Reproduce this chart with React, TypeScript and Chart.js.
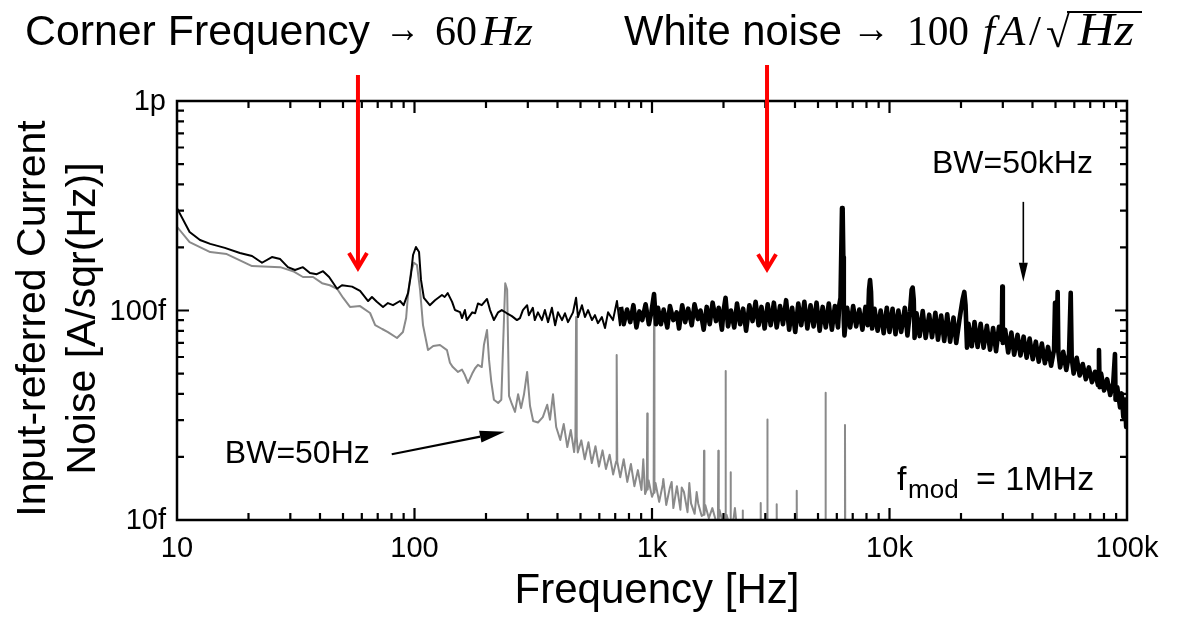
import React, { useEffect, useRef } from "react";
import { Chart, registerables } from "chart.js";

Chart.register(...registerables);

// ---------- axis ticks ----------
const xTickValues = [10, 100, 1000, 10000, 100000];
const xTickLabels = ["10", "100", "1k", "10k", "100k"];
const yTickValues = [10, 100, 1000];
const yTickLabels = ["10f", "100f", "1p"];

// ---------- BW = 50 kHz series (frequency in Hz, noise in fA/sqrt(Hz)) ----------
const bw50kFreq = [
  10, 11.3, 12.5, 13.8, 15.9, 18.4, 20.7, 22.8, 25.1, 27.2, 29.3, 31.4, 33.9, 36.3, 38.8, 41.2, 43.7, 47.2, 49.5, 54.6,
  59.0, 63.8, 66.2, 69.4, 73.7, 77.3, 81.2, 86.9, 90.0, 93.9, 96.6, 98.6, 101.4, 104.5, 106.5, 109.5, 116, 122, 130.5, 134,
  138, 144, 148, 155.5, 158.5, 163, 166, 175, 180, 185, 192, 202, 208, 216, 225, 233, 245, 257, 270, 278,
  286, 298, 303, 315, 321, 331, 344, 354, 365, 379, 391, 402, 418, 430, 443, 465, 479, 488, 507, 522,
  538, 559, 575, 592, 615, 634, 653, 685, 712, 733,
  740, 760, 785, 810, 835, 860, 885, 910, 940, 970, 995, 1020, 1040,
  1060, 1090, 1120, 1160, 1190, 1230, 1270, 1300, 1340, 1380, 1420, 1470, 1510, 1560, 1600, 1650, 1700, 1750, 1800, 1860,
  1910, 1970, 2000, 2040, 2090, 2150, 2220, 2280, 2350, 2420, 2490, 2570, 2650, 2730, 2810, 2890, 2980, 3070,
  3160, 3260, 3350, 3460, 3560, 3670, 3780, 3890, 4010, 4130, 4250, 4380, 4510, 4650, 4790, 4930, 5080, 5230, 5390, 5550,
  5720, 5890, 6070, 6150, 6220, 6270, 6310, 6350, 6390, 6420, 6460, 6540, 6630, 6830, 7030, 7240, 7460, 7690, 7920, 8100,
  8200, 8280, 8360, 8450, 8650, 8910, 9180, 9450, 9740, 10000,
  10300, 10600, 10900, 11200, 11600, 11900, 12200, 12400, 12520, 12650, 12750, 13000, 13400, 13800, 14200, 14700, 15100, 15600, 16000, 16500,
  17000, 17500, 18000, 18600, 19100, 19700, 20300, 20650, 20900, 21200, 21500, 22200, 22800, 23500, 24200, 24900, 25700, 26500, 27300, 28100,
  28900, 29700, 29850, 30000, 30700, 31600, 32600, 33500, 34600, 35600, 36700, 37800, 38900, 40100, 41300, 42500, 43800, 45100, 46500, 47900,
  49300, 49770, 50200, 50700, 51050, 51400, 52300, 53900, 55500, 57000, 57940, 58500, 59600, 61400, 63200, 65100, 67100, 69100, 71200, 73300,
  75500, 76200, 76700, 77800, 80100, 82500, 85000, 87500, 89000, 89500, 91000, 93500, 95000, 96500, 98000, 99200, 100000,
];
const bw50kNoise = [
  308, 237, 217, 208, 199, 188, 182, 169, 180, 176, 161, 156, 161, 151, 149, 154, 144.5, 127, 132, 130,
  124, 111, 116, 110, 104, 108.5, 106, 111, 106, 121, 148, 184, 201, 190, 140, 115, 106, 112, 118.6, 116,
  121, 110, 100.5, 98.3, 92, 100.5, 90, 98, 97, 108, 106, 113.5, 100.5, 90, 98, 100.5, 97, 94, 90, 92,
  100.5, 106, 95, 103, 90, 98, 90, 100.5, 88, 103, 85, 98, 90, 97, 88, 98, 115, 93, 106, 93,
  100.5, 90, 95, 87, 93, 82.5, 98, 90, 111, 85,
  104, 86, 101, 88, 106, 83, 99, 90, 107, 86, 99, 119.7, 86,
  103, 86, 101, 83, 105, 90, 98, 82, 106, 88, 102, 85, 107, 91, 100, 81, 104, 86, 109, 89,
  103, 81, 99, 115, 84, 100, 83, 108, 86, 102, 80, 106, 89, 110, 85, 104, 82, 107,
  85, 109, 83, 105, 86, 112, 81, 103, 79, 108, 85, 110, 82, 106, 84, 109, 80, 104, 83, 108,
  81, 105, 83, 107, 115, 200, 308, 300, 180, 90.1, 76, 88, 103, 83, 105, 84, 101, 81, 104, 85,
  126, 139.8, 122.6, 82, 102, 80, 100, 78, 103, 79,
  102, 77, 100, 79, 103, 76, 99, 126, 128.6, 112.5, 74, 97, 75.5, 99.5, 74, 95.5, 74.5, 97.5, 72.5, 94.5,
  71.5, 96, 71, 92.5, 70, 90.5, 112.5, 122.6, 106.3, 66.5, 86.5, 67.5, 88, 67, 86.5, 66.5, 84.5, 65, 82.5, 64,
  83.5, 72.3, 130, 70, 81, 63, 78.5, 61.5, 76.5, 61, 75, 59.5, 73.5, 58.5, 71, 57, 69.5, 56, 67, 54.5,
  65, 108.7, 64.7, 80.7, 122.6, 63.3, 53.5, 63.5, 52, 62, 121.4, 59.5, 50, 59.5, 49, 55.5, 47, 53.5, 45.5, 51,
  44, 64.7, 43, 50, 41.5, 47, 39.5, 45, 62, 37.5, 43, 34.5, 40.2, 31, 37.6, 27.8, 33,
];

// ---------- BW = 50 Hz series ----------
const bw50Freq = [
  10, 11.3, 13.8, 16.2, 20.7, 27.2, 30.8, 33.9, 37.4, 40.8, 44.0, 47.2, 50.1, 53.5, 59.0, 65.0, 68.3, 73.1, 77.3, 84.4,
  89.4, 92.2, 93.9, 96.6, 99.5, 102.4, 105.5, 108.6, 114, 119.9, 128, 137, 141, 145, 152.5, 158.5, 163, 168, 175, 180,
  185, 192, 196, 202, 206, 210.5, 216, 225, 232, 236.5, 241, 245.5, 250, 257, 265, 273, 281, 289, 298, 306.5,
  316, 331, 347, 362, 372, 383, 395, 411, 425, 440, 455, 470, 476, 479, 482, 487, 504, 521, 540, 558,
  578, 598, 619, 640, 663, 686, 706, 710, 714, 735, 760, 787, 815, 843, 872, 903, 919, 935, 951, 955,
  959, 967, 1000, 1016, 1020, 1024, 1035, 1072, 1109, 1116, 1148, 1188, 1210, 1230, 1273, 1317, 1334, 1363, 1411, 1436,
  1460, 1512, 1542, 1565, 1619, 1650, 1656, 1662, 1676, 1735, 1795, 1858, 1895, 1902, 1910, 1923, 1990, 2033, 2040, 2047,
  2060, 2132, 2141, 2150, 2207, 2234, 2284, 2330, 2400, 2408, 2416, 2860, 2869, 2878, 3050, 3059, 3068, 3340, 3350, 3360,
  4055, 4068, 4080, 5360, 5377, 5395, 6475, 6495, 6515, 10000,
];
const bw50Noise = [
  251, 212, 190, 186, 163, 161, 154, 144.5, 144.5, 135, 132, 127, 114.8, 104, 105, 97.3, 85.2, 81.6, 78.9, 73.9,
  78.9, 92.1, 118.6, 152.6, 169, 165, 126, 85.2, 64.8, 67.7, 68.4, 64.7, 56.3, 53.7, 50.9, 52.2, 49.2, 45.1, 50.0, 53,
  55, 53.7, 68.4, 80.7, 58.1, 45.8, 37.5, 36.2, 37.5, 72.3, 135, 126, 39.1, 35.8, 32.8, 39.8, 34.2, 39.7, 50.9, 35.0,
  29.7, 29.2, 31.0, 35.5, 30.1, 39.8, 27.8, 24.1, 28.7, 22.3, 26.9, 21.1, 25, 93, 25, 21, 24, 19.5, 23.5, 18.7,
  22.5, 18, 21.5, 17.5, 20.5, 16.5, 19, 61.3, 19, 16, 19.5, 15.2, 18.5, 14.5, 17.3, 13.9, 19.5, 13.3, 14, 32.2,
  14, 15.5, 12.9, 13.5, 108, 13.5, 15.0, 12.2, 14.7, 15.7, 11.8, 14.2, 15.2, 11.4, 14.5, 11.2, 14.3, 13.6, 10.9, 15.0,
  12, 10.7, 13.6, 12.0, 10.45, 10.6, 21.4, 10.6, 11.8, 10.2, 11.4, 9.9, 10, 21.4, 10, 11.2, 9.6, 10, 51.4, 10,
  10.6, 9.3, 16.9, 9.4, 10.2, 11.4, 9.0, 8, 7, 11.1, 7, 7, 12.06, 7, 7, 30.2, 7, 7, 11.9, 7,
  7, 13.8, 7, 7, 40.5, 7, 7, 28.4, 7, 7,
];

const SANS = '"Liberation Sans", Arial, Helvetica, sans-serif';
const SERIF = '"Liberation Serif", "Times New Roman", serif';

function pts(fs: number[], vs: number[]) {
  return fs.map((f, i) => ({ x: f, y: vs[i] }));
}

function text(ctx: any, s: string, x: number, y: number, font: string, align: any = "left") {
  ctx.font = font;
  ctx.textAlign = align;
  ctx.textBaseline = "alphabetic";
  ctx.fillStyle = "#000";
  ctx.fillText(s, x, y);
}

// draws text starting at x, stretched horizontally to the given width
function textFit(ctx: any, s: string, x: number, y: number, font: string, width: number) {
  ctx.save();
  ctx.font = font;
  const w = ctx.measureText(s).width || 1;
  ctx.translate(x, y);
  ctx.scale(width / w, 1);
  ctx.textAlign = "left";
  ctx.textBaseline = "alphabetic";
  ctx.fillStyle = "#000";
  ctx.fillText(s, 0, 0);
  ctx.restore();
}

function filledArrow(ctx: any, x1: number, y1: number, x2: number, y2: number, hl: number, hw: number, lw: number) {
  const a = Math.atan2(y2 - y1, x2 - x1);
  const bx = x2 - hl * Math.cos(a);
  const by = y2 - hl * Math.sin(a);
  ctx.strokeStyle = "#000";
  ctx.fillStyle = "#000";
  ctx.lineWidth = lw;
  ctx.beginPath();
  ctx.moveTo(x1, y1);
  ctx.lineTo(bx, by);
  ctx.stroke();
  ctx.beginPath();
  ctx.moveTo(x2, y2);
  ctx.lineTo(bx + hw * Math.sin(a), by - hw * Math.cos(a));
  ctx.lineTo(bx - hw * Math.sin(a), by + hw * Math.cos(a));
  ctx.closePath();
  ctx.fill();
}

function redArrow(ctx: any, x: number, yTop: number, yTip: number) {
  ctx.strokeStyle = "#ff0000";
  ctx.lineWidth = 4;
  ctx.lineCap = "butt";
  ctx.lineJoin = "miter";
  ctx.beginPath();
  ctx.moveTo(x, yTop);
  ctx.lineTo(x, yTip - 2);
  ctx.stroke();
  ctx.beginPath();
  ctx.moveTo(x - 9, yTip - 17);
  ctx.lineTo(x, yTip - 2);
  ctx.lineTo(x + 9, yTip - 17);
  ctx.stroke();
}

const framePlugin = {
  id: "framePlugin",
  afterDatasetsDraw(chart: any) {
    const ctx = chart.ctx;
    const { left, right, top, bottom } = chart.chartArea;
    const xs = chart.scales.x;
    const ys = chart.scales.y;
    ctx.save();

    // frame
    ctx.strokeStyle = "#000";
    ctx.lineWidth = 2.5;
    ctx.strokeRect(left, top, right - left, bottom - top);

    // inward ticks
    ctx.lineWidth = 2.2;
    ctx.beginPath();
    for (let d = 10; d < 100000; d *= 10) {
      for (let m = 1; m < 10; m++) {
        const v = d * m;
        const px = xs.getPixelForValue(v);
        const len = m === 1 ? 12 : 7;
        if (m === 1 && v === 10) continue;
        ctx.moveTo(px, bottom);
        ctx.lineTo(px, bottom - len);
        ctx.moveTo(px, top);
        ctx.lineTo(px, top + len);
      }
    }
    for (let d = 10; d < 1000; d *= 10) {
      for (let m = 1; m < 10; m++) {
        const v = d * m;
        const py = ys.getPixelForValue(v);
        const len = m === 1 ? 12 : 7;
        if (m === 1 && v === 10) continue;
        ctx.moveTo(left, py);
        ctx.lineTo(left + len, py);
        ctx.moveTo(right, py);
        ctx.lineTo(right - len, py);
      }
    }
    ctx.stroke();

    // tick labels
    const tickFont = `29px ${SANS}`;
    xTickValues.forEach((v, i) => {
      text(ctx, xTickLabels[i], xs.getPixelForValue(v), bottom + 37, tickFont, "center");
    });
    yTickValues.forEach((v, i) => {
      text(ctx, yTickLabels[i], left - 11, ys.getPixelForValue(v) + 9, tickFont, "right");
    });

    // axis titles
    text(ctx, "Frequency [Hz]", (left + right) / 2 + 5, bottom + 83, `42px ${SANS}`, "center");
    const cy = (top + bottom) / 2 + 8;
    ctx.save();
    ctx.translate(45, cy);
    ctx.rotate(-Math.PI / 2);
    text(ctx, "Input-referred Current", 0, 0, `41px ${SANS}`, "center");
    ctx.restore();
    ctx.save();
    ctx.translate(95, cy);
    ctx.rotate(-Math.PI / 2);
    text(ctx, "Noise [A/sqr(Hz)]", 0, 0, `41px ${SANS}`, "center");
    ctx.restore();

    // headline annotations
    const base = 45;
    textFit(ctx, "Corner Frequency", 25, base, `42px ${SANS}`, 345);
    textFit(ctx, "\u2192", 385, base - 3, `40px ${SERIF}`, 35);
    text(ctx, "60", 435, base, `42px ${SERIF}`);
    textFit(ctx, "Hz", 481, base, `italic 43px ${SERIF}`, 52);

    textFit(ctx, "White noise", 624, base, `42px ${SANS}`, 218);
    textFit(ctx, "\u2192", 852, base - 3, `40px ${SERIF}`, 38);
    textFit(ctx, "100", 907, base, `42px ${SERIF}`, 62);
    text(ctx, "f", 983, base, `italic 43px ${SERIF}`);
    text(ctx, "A", 999, base, `italic 43px ${SERIF}`);
    text(ctx, "/", 1029, base, `43px ${SERIF}`);
    text(ctx, "\u221A", 1046, base + 2, `43px ${SERIF}`);
    textFit(ctx, "Hz", 1078, base, `italic 46px ${SERIF}`, 56);
    ctx.strokeStyle = "#000";
    ctx.lineWidth = 2;
    ctx.beginPath();
    ctx.moveTo(1067, 12);
    ctx.lineTo(1142, 12);
    ctx.stroke();

    // red arrows
    redArrow(ctx, xs.getPixelForValue(57.8), top - 26, ys.getPixelForValue(156));
    redArrow(ctx, xs.getPixelForValue(3050), top - 36, ys.getPixelForValue(154));

    // black arrows
    const kx = xs.getPixelForValue(36600);
    filledArrow(ctx, kx, ys.getPixelForValue(330), kx, ys.getPixelForValue(137), 19, 4.5, 1.6);
    filledArrow(
      ctx,
      xs.getPixelForValue(80.2),
      ys.getPixelForValue(20.6),
      xs.getPixelForValue(240),
      ys.getPixelForValue(26.4),
      25,
      6,
      2.2
    );

    // labels in plot
    text(ctx, "BW=50Hz", xs.getPixelForValue(15.9), ys.getPixelForValue(18.7), `32px ${SANS}`);
    text(ctx, "BW=50kHz", xs.getPixelForValue(15100), ys.getPixelForValue(453), `32px ${SANS}`);
    const fx = xs.getPixelForValue(10760);
    const fy = ys.getPixelForValue(13.9);
    text(ctx, "f", fx, fy, `34px ${SANS}`);
    text(ctx, "mod", fx + 11, fy + 8, `26px ${SANS}`);
    text(ctx, "= 1MHz", fx + 79, fy, `34px ${SANS}`);

    ctx.restore();
  },
};

export default function App() {
  const ref = useRef<HTMLCanvasElement | null>(null);

  useEffect(() => {
    if (!ref.current) return;
    const chart = new Chart(ref.current, {
      type: "line",
      data: {
        datasets: [
          {
            label: "BW=50kHz",
            data: pts(bw50kFreq, bw50kNoise),
            borderColor: "#000000",
            borderWidth: 2,
            borderJoinStyle: "round",
            pointRadius: 0,
            tension: 0,
            fill: false,
            segment: {
              borderWidth: (c: any) => (c.p0.parsed.x >= 735 ? 4.6 : 2),
            },
          },
          {
            label: "BW=50Hz",
            data: pts(bw50Freq, bw50Noise),
            borderColor: "#8a8a8a",
            borderWidth: 2,
            borderJoinStyle: "round",
            pointRadius: 0,
            tension: 0,
            fill: false,
          },
        ],
      },
      options: {
        responsive: false,
        animation: false,
        events: [],
        layout: { padding: { left: 177, top: 101, right: 50, bottom: 99 } },
        plugins: { legend: { display: false }, tooltip: { enabled: false }, title: { display: false } },
        scales: {
          x: {
            type: "logarithmic",
            min: 10,
            max: 100000,
            grid: { display: false, drawTicks: false },
            ticks: { display: false },
            border: { display: false },
            afterFit: (s: any) => {
              s.height = 0;
            },
          },
          y: {
            type: "logarithmic",
            min: 10,
            max: 1000,
            grid: { display: false, drawTicks: false },
            ticks: { display: false },
            border: { display: false },
            afterFit: (s: any) => {
              s.width = 0;
            },
          },
        },
      },
      plugins: [framePlugin],
    } as any);
    return () => chart.destroy();
  }, []);

  return (
    <div style={{ position: "absolute", left: 0, top: 0, width: 1177, height: 619, background: "#fff" }}>
      <canvas ref={ref} width={1177} height={619} style={{ display: "block" }} />
    </div>
  );
}
